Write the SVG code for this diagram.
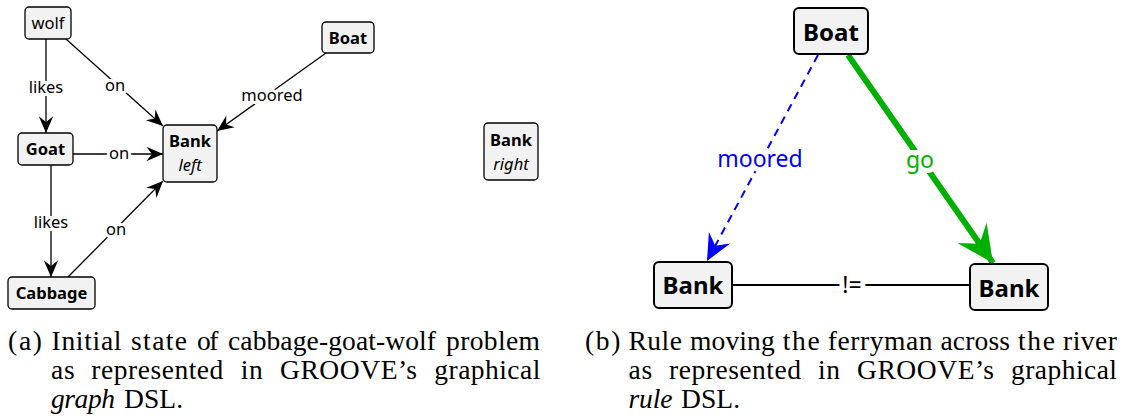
<svg xmlns="http://www.w3.org/2000/svg" width="1123" height="418" viewBox="0 0 1123 418">
<style>
.nd{fill:#f2f2f2;stroke:#000;stroke-width:1.3}
.nd2{fill:#f2f2f2;stroke:#000;stroke-width:2}
.t{font-family:"Noto Sans","Open Sans",sans-serif;font-size:16.5px;fill:#000;text-anchor:middle}
.b{font-weight:bold}
.i{font-style:italic}
.lbl{font-family:"Noto Sans","Open Sans",sans-serif;font-size:16.5px;fill:#000;text-anchor:middle;stroke:#fff;stroke-width:6;paint-order:stroke;stroke-linejoin:round}
.t2{font-family:"Noto Sans","Open Sans",sans-serif;font-size:24px;font-weight:bold;fill:#000;text-anchor:middle}
.lbl2{font-family:"Noto Sans","Open Sans",sans-serif;font-size:23px;text-anchor:middle;stroke:#fff;stroke-width:10;paint-order:stroke;stroke-linejoin:round}
.e{stroke:#000;stroke-width:1.3;fill:none}
.cap text{font-family:"Liberation Serif","Times New Roman",serif;font-size:27.5px;fill:#000}
</style>
<defs>
<marker id="ah" markerUnits="userSpaceOnUse" markerWidth="20" markerHeight="20" viewBox="-16 -8 18 16" refX="0" refY="0" orient="auto">
<path d="M0,0 L-15,-6.5 L-10,0 L-15,6.5 z" fill="#000"/>
</marker>
<marker id="ahb" markerUnits="userSpaceOnUse" markerWidth="30" markerHeight="30" viewBox="-24 -12 26 24" refX="0" refY="0" orient="auto">
<path d="M0,0 L-23,-10.5 L-15,0 L-23,10.5 z" fill="#0000ff"/>
</marker>
<marker id="ahg" markerUnits="userSpaceOnUse" markerWidth="40" markerHeight="40" viewBox="-34 -17 36 34" refX="0" refY="0" orient="auto">
<path d="M0,0 L-33,-16 L-21,0 L-33,16 z" fill="#00b000"/>
</marker>
</defs>

<g id="edges">
<line class="e" x1="46" y1="39" x2="46" y2="133" marker-end="url(#ah)"/>
<text class="lbl" x="46" y="93">likes</text>
<line class="e" x1="66" y1="39" x2="163" y2="126" marker-end="url(#ah)"/>
<text class="lbl" x="115" y="91">on</text>
<line class="e" x1="73" y1="154" x2="163" y2="154" marker-end="url(#ah)"/>
<text class="lbl" x="119" y="159">on</text>
<line class="e" x1="51" y1="165" x2="51" y2="277" marker-end="url(#ah)"/>
<text class="lbl" x="51" y="228">likes</text>
<line class="e" x1="68" y1="277" x2="163" y2="181" marker-end="url(#ah)"/>
<text class="lbl" x="116" y="235">on</text>
<line class="e" x1="326" y1="53" x2="217" y2="131" marker-end="url(#ah)"/>
<text class="lbl" x="272" y="101">moored</text>

<line x1="818" y1="55" x2="707" y2="261" stroke="#0000ff" stroke-width="2" stroke-dasharray="8,6" marker-end="url(#ahb)"/>
<text class="lbl2" x="760" y="167" fill="#0000ff">moored</text>
<line x1="848" y1="55" x2="993" y2="263" stroke="#00b000" stroke-width="6" marker-end="url(#ahg)"/>
<text class="lbl2" x="920" y="168" fill="#00b000">go</text>
<line x1="732" y1="285" x2="970" y2="285" stroke="#000" stroke-width="2"/>
<text class="lbl2" x="852" y="293" fill="#000">!=</text>
</g>

<g id="wolf"><rect class="nd" x="25" y="7" width="46" height="32" rx="4"/><text class="t" x="48" y="29">wolf</text></g>
<g id="boat-a"><rect class="nd" x="322" y="22" width="52" height="31" rx="4"/><text class="t b" x="348" y="44">Boat</text></g>
<g id="goat"><rect class="nd" x="18" y="133" width="55" height="32" rx="4"/><text class="t b" x="45.5" y="155">Goat</text></g>
<g id="bank-left"><rect class="nd" x="163" y="125" width="54" height="57" rx="4"/><text class="t b" x="190" y="147">Bank</text><text class="t i" x="190" y="171">left</text></g>
<g id="cabbage"><rect class="nd" x="8" y="277" width="87" height="32" rx="4"/><text class="t b" x="51.5" y="299">Cabbage</text></g>
<g id="bank-right"><rect class="nd" x="484" y="123" width="54" height="57" rx="4"/><text class="t b" x="511" y="146">Bank</text><text class="t i" x="511" y="170">right</text></g>

<g id="boat-b"><rect class="nd2" x="794" y="8" width="74" height="46" rx="5"/><text class="t2" x="831" y="41">Boat</text></g>
<g id="bank-b1"><rect class="nd2" x="654" y="262" width="78" height="46" rx="5"/><text class="t2" x="693" y="294">Bank</text></g>
<g id="bank-b2"><rect class="nd2" x="970" y="264" width="78" height="46" rx="5"/><text class="t2" x="1009" y="297">Bank</text></g>

<g id="caption-a" class="cap">
<text x="8" y="350" textLength="34" lengthAdjust="spacing">(a)</text>
<text x="51.5" y="350" textLength="70" lengthAdjust="spacing">Initial</text>
<text x="131" y="350" textLength="56" lengthAdjust="spacing">state</text>
<text x="197" y="350" textLength="21.4" lengthAdjust="spacing">of</text>
<text x="228" y="350" textLength="208" lengthAdjust="spacing">cabbage-goat-wolf</text>
<text x="446" y="350" textLength="94" lengthAdjust="spacing">problem</text>
<text x="51" y="379" textLength="23.7" lengthAdjust="spacing">as</text>
<text x="91.3" y="379" textLength="132" lengthAdjust="spacing">represented</text>
<text x="240.7" y="379" textLength="22" lengthAdjust="spacing">in</text>
<text x="280" y="379" textLength="137" lengthAdjust="spacing">GROOVE’s</text>
<text x="434.3" y="379" textLength="106" lengthAdjust="spacing">graphical</text>
<text x="51" y="408" font-style="italic" textLength="64" lengthAdjust="spacing">graph</text>
<text x="124" y="408" textLength="59" lengthAdjust="spacing">DSL.</text>
</g>
<g id="caption-b" class="cap">
<text x="585" y="350" textLength="35.4" lengthAdjust="spacing">(b)</text>
<text x="628.5" y="350" textLength="53.4" lengthAdjust="spacing">Rule</text>
<text x="690" y="350" textLength="84.7" lengthAdjust="spacing">moving</text>
<text x="782.8" y="350" textLength="36.8" lengthAdjust="spacing">the</text>
<text x="827.7" y="350" textLength="104.7" lengthAdjust="spacing">ferryman</text>
<text x="940.5" y="350" textLength="69.5" lengthAdjust="spacing">across</text>
<text x="1018.1" y="350" textLength="36.8" lengthAdjust="spacing">the</text>
<text x="1063" y="350" textLength="53.9" lengthAdjust="spacing">river</text>
<text x="628.5" y="379" textLength="23.7" lengthAdjust="spacing">as</text>
<text x="669" y="379" textLength="132" lengthAdjust="spacing">represented</text>
<text x="818" y="379" textLength="22" lengthAdjust="spacing">in</text>
<text x="857" y="379" textLength="137" lengthAdjust="spacing">GROOVE’s</text>
<text x="1011" y="379" textLength="106" lengthAdjust="spacing">graphical</text>
<text x="628.5" y="408" font-style="italic" textLength="44" lengthAdjust="spacing">rule</text>
<text x="681" y="408" textLength="59" lengthAdjust="spacing">DSL.</text>
</g>
</svg>
